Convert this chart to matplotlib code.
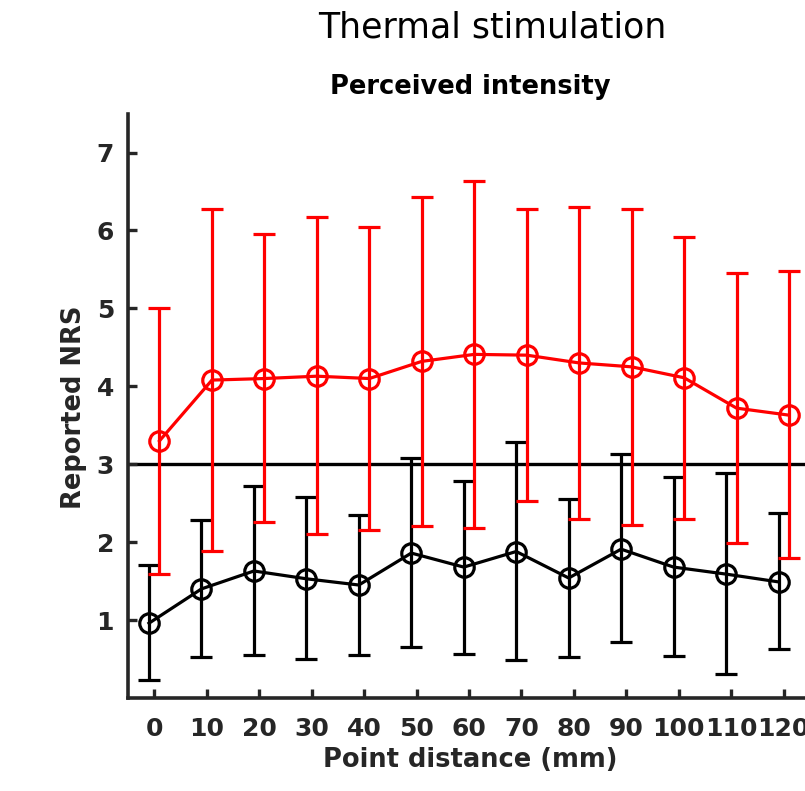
import matplotlib
matplotlib.use("Agg")
import matplotlib.pyplot as plt
import numpy as np

plt.rcParams['font.family'] = ['DejaVu Sans']

# point distance (mm)
distance = [0, 10, 20, 30, 40, 50, 60, 70, 80, 90, 100, 110, 120]
tick_labels = [str(d) for d in distance]

# red series (upper)
red_mean = [3.30, 4.08, 4.10, 4.13, 4.10, 4.32, 4.41, 4.40, 4.30, 4.25, 4.11, 3.72, 3.63]
red_top = [5.00, 6.28, 5.95, 6.17, 6.04, 6.43, 6.64, 6.27, 6.30, 6.27, 5.92, 5.46, 5.48]
red_bot = [1.59, 1.89, 2.26, 2.11, 2.16, 2.21, 2.18, 2.53, 2.30, 2.22, 2.30, 1.99, 1.80]

# black series (lower)
blk_mean = [0.96, 1.40, 1.63, 1.53, 1.45, 1.86, 1.68, 1.88, 1.54, 1.91, 1.68, 1.59, 1.49]
blk_top = [1.71, 2.29, 2.72, 2.58, 2.35, 3.08, 2.78, 3.29, 2.56, 3.13, 2.83, 2.89, 2.38]
blk_bot = [0.23, 0.52, 0.55, 0.50, 0.55, 0.65, 0.56, 0.49, 0.52, 0.72, 0.54, 0.31, 0.63]

threshold = 3

dark = "#262626"
W, H = 805, 791

fig = plt.figure(figsize=(W / 100, H / 100), dpi=100)
ax = fig.add_axes([128 / W, 1 - 698 / H, (810 - 128) / W, (698 - 113.6) / H])

x = np.array(distance, dtype=float)
rm = np.array(red_mean)
bm = np.array(blk_mean)
red_err = [rm - np.array(red_bot), np.array(red_top) - rm]
blk_err = [bm - np.array(blk_bot), np.array(blk_top) - bm]

ax.axhline(threshold, color="black", lw=2.4, zorder=1)

ax.errorbar(x - 1, bm, yerr=blk_err, color="black", lw=2.3, elinewidth=2.3,
            capsize=8, capthick=3, marker="o", ms=14, mfc="none",
            mec="black", mew=2.3, zorder=3)
ax.errorbar(x + 1, rm, yerr=red_err, color="red", lw=2.3, elinewidth=2.3,
            capsize=8, capthick=3, marker="o", ms=14, mfc="none",
            mec="red", mew=2.3, zorder=4)

ax.set_xlim(-5, 125)
ax.set_ylim(0, 7.5)
ax.set_xticks(distance)
ax.set_xticklabels(tick_labels)
ax.set_yticks([1, 2, 3, 4, 5, 6, 7])

for s in ["top", "right"]:
    ax.spines[s].set_visible(False)
for s in ["left", "bottom"]:
    ax.spines[s].set_linewidth(2.6)
    ax.spines[s].set_color(dark)

ax.tick_params(direction="in", length=6.5, width=2.4, color=dark,
               labelcolor=dark, labelsize=18)
ax.tick_params(axis="x", pad=14)
ax.tick_params(axis="y", pad=10)
for lab in ax.get_xticklabels() + ax.get_yticklabels():
    lab.set_fontweight("bold")

fig.text(470 / W, 1 - 766.7 / H, "Point distance (mm)", fontsize=18.5,
         fontweight="bold", color=dark, ha="center", va="baseline")
fig.text(74 / W, 1 - 407.5 / H, "Reported NRS", fontsize=18.5,
         fontweight="bold", color=dark, rotation=90, ha="center", va="center")
fig.text(470 / W, 1 - 94 / H, "Perceived intensity", fontsize=18.5,
         fontweight="bold", color="black", ha="center", va="baseline")
fig.text(492.5 / W, 1 - 37 / H, "Thermal stimulation", fontsize=25,
         color="black", ha="center", va="baseline")

fig.savefig("out.png", dpi=100)
plt.close(fig)
